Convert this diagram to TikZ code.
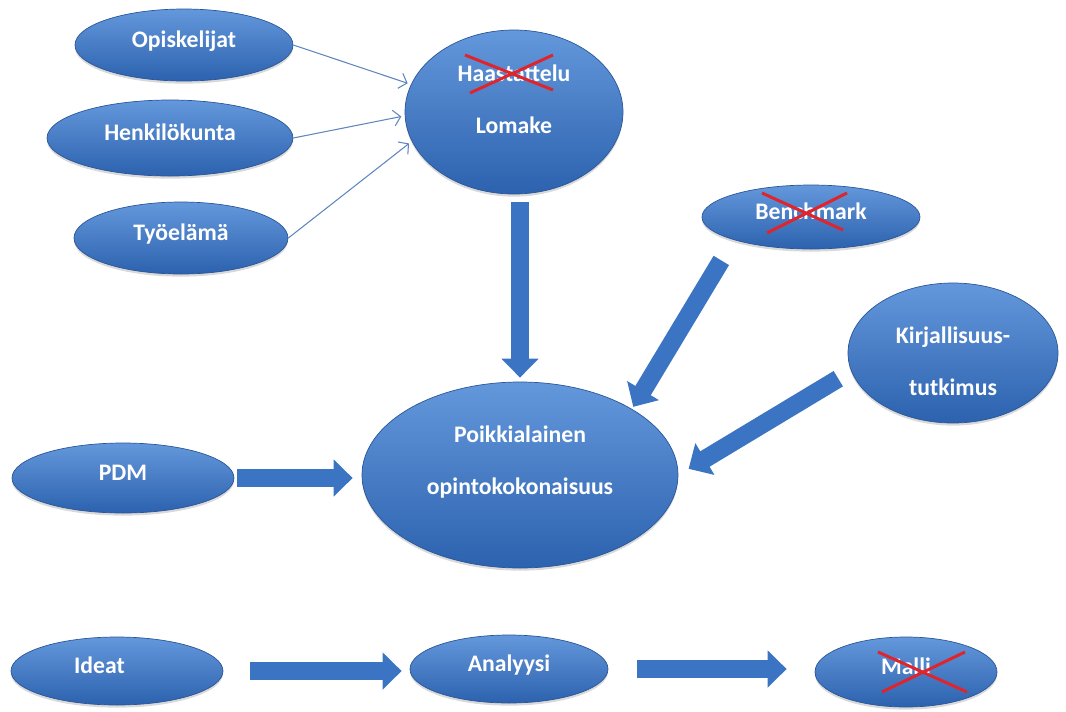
\documentclass[tikz,border=0pt]{standalone}
\usepackage{fontspec}
\setmainfont{Carlito}
\usetikzlibrary{arrows.meta,shapes.geometric,shadows}

\definecolor{ballblue}{HTML}{3D7AC9}
\definecolor{balltop}{HTML}{6498DC}
\definecolor{ballbottom}{HTML}{2C62AE}
\definecolor{balledge}{HTML}{2A5699}
\definecolor{linkblue}{HTML}{5E86BC}
\definecolor{pipeblue}{HTML}{3A74C2}
\definecolor{crossred}{HTML}{E0242B}
\newcommand{\px}{0.02cm}

\begin{document}
\begin{tikzpicture}[x=0.02cm,y=-0.02cm,
		every node/.style={font=\bfseries\fontsize{13.5}{16}\selectfont, text=white, align=center},
		ball/.style 2 args={ellipse, draw=balledge, line width=.4pt, inner sep=0pt,
			top color=balltop, middle color=ballblue, bottom color=ballbottom,
			drop shadow={shadow xshift=0pt, shadow yshift=-1.5pt, opacity=.3},
			text height=9pt, text depth=5.8pt,
			minimum width=#1*\px, minimum height=#2*\px},
		feed/.style={draw=linkblue, line width=.6pt, -{Straight Barb[length=4pt,width=9pt]}},
		pipe/.style={draw=pipeblue, line width=0.36cm, -{Triangle[length=0.38cm,width=0.72cm]}},
		strike/.style={draw=crossred, line width=1.7pt}]
		\useasboundingbox (0,0) rectangle (1066,711);

		% inputs for the questionnaire
		\node[ball={218}{72}] (opisk) at (184,45) {Opiskelijat};
		\node[ball={246}{76}] (henk) at (170,138) {Henkilökunta};
		\node[ball={214}{72}] (tyo) at (181,238) {Työelämä};
		\node[ball={218}{164}] (haast) at (514,112) {};
		\node (haasttxt) at (514,99) {Haastattelu\\[13.5pt]Lomake};

		\draw[feed, shorten >=2pt] (opisk.east) -- (haast.165);
		\draw[feed, shorten >=2pt] (henk.east) -- (haast.182);
		\draw[feed, shorten >=2pt] (tyo.east) -- (haast.196);

		% centre and side sources
		\node[ball={316}{186}] (poikki) at (520,475) {};
		\node (poikkitxt) at (520,462) {Poikkialainen\\[13.5pt]opintokokonaisuus};
		\node[ball={218}{64}] (bench) at (811,217) {Benchmark};
		\node[ball={210}{140}] (kirj) at (953,353) {};
		\node (kirjtxt) at (953,361) {Kirjallisuus-\\[13.5pt]tutkimus};
		\node[ball={222}{70}] (pdm) at (123,478) {PDM};

		\draw[pipe, shorten <=0.16cm, shorten >=0.08cm] (haast.south -| poikki.north) -- (poikki.north);
		\draw[pipe, shorten <=0.48cm, shorten >=0.05cm] (bench.south west) -- (poikki.north east);
		\draw[pipe, shorten <=0.3cm, shorten >=0.24cm] (kirj.190) -- (poikki.east);
		\draw[pipe, shorten <=0.06cm, shorten >=0.18cm] (pdm.east) -- (pdm.east -| poikki.west);

		% bottom row
		\node[ball={212}{68}] (ideat) at (117,671) {Ideat\hspace*{0.7cm}};
		\node[ball={198}{68}] (analyysi) at (509,669) {Analyysi};
		\node[ball={182}{70}] (malli) at (906,672) {Malli};

		\draw[pipe, shorten <=0.54cm, shorten >=0.16cm] (ideat.east) -- (ideat.east -| analyysi.west);
		\draw[pipe, shorten <=0.58cm, shorten >=0.56cm] (analyysi.east) -- (analyysi.east -| malli.west);

		% crossed out
		\draw[strike] (465,55) -- (553,90);
		\draw[strike] (470,93) -- (553,55);
		\draw[strike] (762,193) -- (843,230);
		\draw[strike] (767,233) -- (847,193);
		\draw[strike] (878,652) -- (967,692);
		\draw[strike] (882,692) -- (965,652);
	\end{tikzpicture}
\end{document}
